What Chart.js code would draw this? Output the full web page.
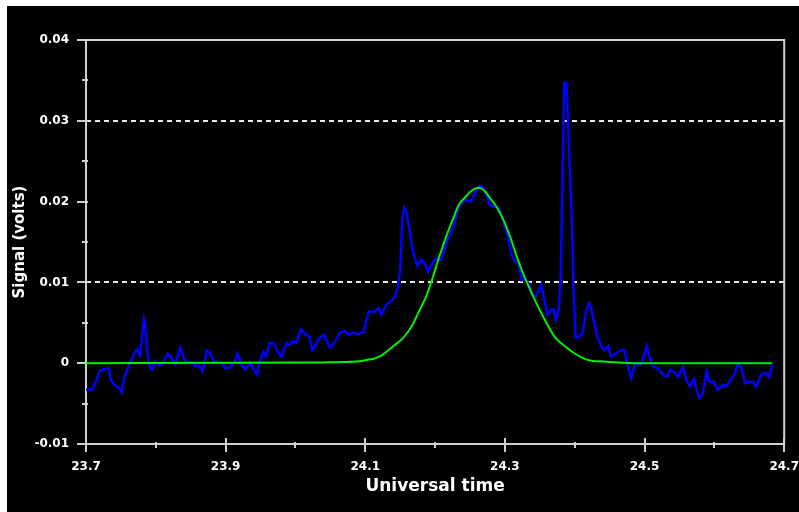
<!DOCTYPE html>
<html>
<head>
<meta charset="utf-8">
<script src="https://cdn.jsdelivr.net/npm/chart.js@4/dist/chart.umd.min.js"></script>
<style>
    html, body { margin: 0; padding: 0; background: #fff; }
    #frame { position: absolute; left: 7px; top: 6px; width: 792px; height: 506px; background: #000; overflow: hidden; }
    canvas { display: block; }
</style>
</head>
<body>
<div id="frame"><canvas id="chart" width="808" height="506"></canvas></div>
<script>
// Measured signal (blue)
const blueTime = [23.700,23.710,23.715,23.720,23.732,23.736,23.741,23.748,23.751,23.755,
    23.762,23.769,23.773,23.777,23.780,23.783,23.785,23.787,23.791,23.794,
    23.800,23.805,23.809,23.817,23.821,23.828,23.835,23.840,23.845,23.852,
    23.857,23.861,23.867,23.873,23.878,23.884,23.894,23.899,23.906,23.913,
    23.917,23.923,23.928,23.935,23.939,23.945,23.949,23.954,23.958,23.963,
    23.970,23.975,23.980,23.987,23.991,23.996,24.001,24.008,24.015,24.020,
    24.024,24.029,24.034,24.041,24.046,24.050,24.057,24.064,24.071,24.076,
    24.082,24.090,24.098,24.101,24.105,24.112,24.119,24.123,24.130,24.138,
    24.142,24.147,24.150,24.152,24.153,24.156,24.159,24.163,24.166,24.171,
    24.175,24.180,24.185,24.190,24.194,24.199,24.204,24.209,24.213,24.218,
    24.223,24.227,24.232,24.237,24.244,24.251,24.258,24.263,24.268,24.272,
    24.278,24.284,24.291,24.296,24.301,24.306,24.310,24.315,24.320,24.324,
    24.327,24.334,24.338,24.343,24.348,24.352,24.356,24.361,24.366,24.370,
    24.373,24.377,24.380,24.382,24.384,24.385,24.388,24.390,24.393,24.396,
    24.398,24.401,24.404,24.411,24.416,24.420,24.423,24.427,24.432,24.438,
    24.442,24.448,24.452,24.459,24.466,24.471,24.476,24.481,24.486,24.495,
    24.501,24.503,24.507,24.512,24.520,24.527,24.532,24.537,24.544,24.548,
    24.555,24.560,24.565,24.571,24.574,24.578,24.583,24.589,24.593,24.599,
    24.605,24.612,24.618,24.624,24.629,24.633,24.638,24.644,24.650,24.655,
    24.660,24.667,24.674,24.678,24.683];
const blueSignal = [-0.0033,-0.0032,-0.0021,-0.0009,-0.0006,-0.0021,-0.0027,-0.0031,-0.0036,-0.0017,
    -0.0002,0.0012,0.0017,0.0010,0.0031,0.0054,0.0047,0.0019,-0.0004,-0.0008,
    0.0002,-0.0003,-0.0002,0.0012,0.0008,-0.0001,0.0019,0.0006,0.0001,0.0001,
    -0.0004,-0.0002,-0.0010,0.0016,0.0012,0.0001,0.0001,-0.0006,-0.0006,0.0002,
    0.0012,-0.0002,-0.0008,0.0001,-0.0006,-0.0014,0.0002,0.0014,0.0008,0.0025,
    0.0024,0.0013,0.0008,0.0025,0.0023,0.0027,0.0025,0.0042,0.0035,0.0033,
    0.0016,0.0023,0.0031,0.0035,0.0025,0.0019,0.0027,0.0038,0.0040,0.0035,
    0.0038,0.0036,0.0039,0.0051,0.0064,0.0063,0.0068,0.0060,0.0072,0.0078,
    0.0082,0.0095,0.0115,0.0157,0.0179,0.0192,0.0186,0.0167,0.0149,0.0130,
    0.0120,0.0128,0.0124,0.0113,0.0120,0.0128,0.0130,0.0128,0.0140,0.0153,
    0.0163,0.0171,0.0190,0.0198,0.0202,0.0200,0.0212,0.0219,0.0219,0.0212,
    0.0196,0.0194,0.0192,0.0181,0.0167,0.0149,0.0132,0.0126,0.0123,0.0103,
    0.0105,0.0099,0.0087,0.0082,0.0089,0.0097,0.0080,0.0060,0.0066,0.0066,
    0.0054,0.0066,0.0107,0.0206,0.0301,0.0347,0.0347,0.0309,0.0239,0.0173,
    0.0099,0.0033,0.0031,0.0037,0.0062,0.0074,0.0070,0.0054,0.0033,0.0021,
    0.0016,0.0021,0.0008,0.0012,0.0016,0.0016,-0.0004,-0.0018,-0.0002,-0.0001,
    0.0014,0.0021,0.0008,-0.0004,-0.0007,-0.0014,-0.0017,-0.0008,-0.0012,-0.0017,
    -0.0004,-0.0021,-0.0029,-0.0019,-0.0031,-0.0043,-0.0039,-0.0010,-0.0023,-0.0023,
    -0.0033,-0.0027,-0.0028,-0.0019,-0.0014,-0.0002,-0.0004,-0.0025,-0.0023,-0.0023,
    -0.0029,-0.0014,-0.0012,-0.0017,-0.0002];

// Fitted curve (green)
const fitTime = [23.700,24.041,24.088,24.102,24.114,24.124,24.140,24.154,24.166,24.178,
    24.187,24.197,24.206,24.216,24.225,24.234,24.244,24.253,24.263,24.270,
    24.279,24.289,24.298,24.308,24.317,24.328,24.343,24.357,24.371,24.386,
    24.400,24.419,24.442,24.485,24.683];
const fitSignal = [0,0.0001,0.0002,0.0004,0.0006,0.0010,0.0021,0.0031,0.0045,0.0066,
    0.0082,0.0107,0.0132,0.0157,0.0177,0.0196,0.0206,0.0214,0.0217,0.0214,
    0.0204,0.0192,0.0177,0.0155,0.0132,0.0107,0.0078,0.0054,0.0033,0.0021,
    0.0012,0.0004,0.0002,0,0];

// Axis labels
const xTickLabels = ['23.7', '23.9', '24.1', '24.3', '24.5', '24.7'];
const yTickLabels = ['-0.01', '0', '0.01', '0.02', '0.03', '0.04'];
const dashedLevels = [0.01, 0.03];

const axisColor = '#cfcfcf';
const near = (a, b) => Math.abs(a - b) < 1e-6;

function toPoints(xs, ys) {
    return xs.map((x, i) => ({ x: x, y: ys[i] }));
}

// frame round the plot plus the small tick marks
const frameAndTicks = {
    id: 'frameAndTicks',
    beforeDatasetsDraw(chart) {
        const { ctx, chartArea: a, scales: { x, y } } = chart;
        ctx.save();
        ctx.strokeStyle = axisColor;
        ctx.lineWidth = 2;
        ctx.strokeRect(a.left, a.top, a.right - a.left, a.bottom - a.top);
        ctx.beginPath();
        y.ticks.forEach(t => {
            const py = Math.round(y.getPixelForValue(t.value));
            const major = t.label !== '';
            ctx.moveTo(a.left - (major ? 9 : 4), py);
            ctx.lineTo(a.left + 2, py);
        });
        x.ticks.forEach(t => {
            const px = Math.round(x.getPixelForValue(t.value));
            const major = t.label !== '';
            ctx.moveTo(px, a.bottom - (major ? 6 : 2));
            ctx.lineTo(px, a.bottom + (major ? 8 : 4));
        });
        ctx.stroke();
        ctx.restore();
    }
};

new Chart(document.getElementById('chart'), {
    type: 'line',
    data: {
        datasets: [
            {
                label: 'Fit',
                data: toPoints(fitTime, fitSignal),
                borderColor: '#00f000',
                borderWidth: 2,
                pointRadius: 0,
                cubicInterpolationMode: 'monotone'
            },
            {
                label: 'Signal',
                data: toPoints(blueTime, blueSignal),
                borderColor: '#0000ff',
                borderWidth: 2.5,
                pointRadius: 0,
                tension: 0
            }
        ]
    },
    options: {
        responsive: false,
        animation: false,
        devicePixelRatio: 1,
        layout: { padding: { top: 34, right: 23, bottom: 0, left: 0 } },
        plugins: { legend: { display: false }, tooltip: { enabled: false } },
        scales: {
            x: {
                type: 'linear',
                min: 23.7,
                max: 24.7,
                afterFit: s => { s.height = 68; },
                border: { display: false },
                grid: { display: false, drawTicks: false },
                ticks: {
                    stepSize: 0.1,
                    padding: 16,
                    color: '#fff',
                    font: { family: 'DejaVu Sans', size: 12, weight: 'bold' },
                    maxRotation: 0,
                    autoSkip: false,
                    callback: v => xTickLabels.find(l => near(+l, v)) || ''
                },
                title: {
                    display: true,
                    text: 'Universal time',
                    color: '#fff',
                    font: { family: 'DejaVu Sans', size: 17, weight: 'bold' },
                    padding: { top: 0, bottom: 15 }
                }
            },
            y: {
                min: -0.01,
                max: 0.04,
                afterFit: s => { s.width = 79; },
                border: { display: false, dash: [5, 4] },
                grid: {
                    drawTicks: false,
                    lineWidth: 2,
                    color: c => dashedLevels.some(d => near(d, c.tick.value)) ? '#e8e8e8' : 'rgba(0,0,0,0)'
                },
                ticks: {
                    stepSize: 0.005,
                    padding: 17,
                    color: '#fff',
                    font: { family: 'DejaVu Sans', size: 12, weight: 'bold' },
                    autoSkip: false,
                    callback: v => yTickLabels.find(l => near(+l, v)) || ''
                },
                title: {
                    display: true,
                    text: 'Signal (volts)',
                    color: '#fff',
                    font: { family: 'DejaVu Sans', size: 15, weight: 'bold' },
                    padding: { top: 4, bottom: 0 }
                }
            }
        }
    },
    plugins: [frameAndTicks]
});
</script>
</body>
</html>
